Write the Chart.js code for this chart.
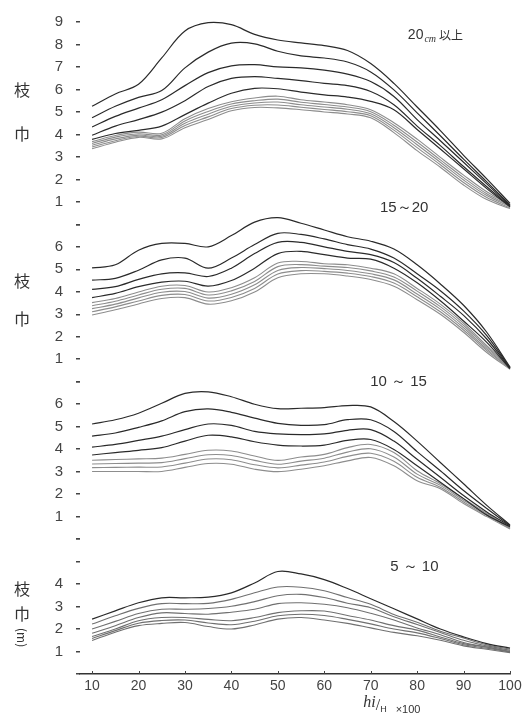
<!DOCTYPE html>
<html lang="ja">
<head>
  <meta charset="UTF-8" />
  <title>枝巾</title>
  <script src="https://cdn.jsdelivr.net/npm/chart.js"></script>
  <style>
    html, body { margin: 0; padding: 0; background: #fff; }
    #wrap { width: 527px; height: 716px; }
  </style>
</head>
<body>
<div id="wrap"><canvas id="chart"></canvas></div>
<script>
// x: hi/H x 100
const hiH = [10, 15, 20, 25, 30, 35, 40, 45, 50, 55, 60, 65, 70, 75, 80, 85, 90, 95, 100];
const xTicks = [10, 20, 30, 40, 50, 60, 70, 80, 90, 100];

// 20cm以上
const over20 = [
  [5.25, 5.8, 6.23, 7.4, 8.6, 8.97, 8.88, 8.45, 8.2, 8.07, 7.95, 7.73, 7.15, 6.27, 5.22, 4.17, 3.07, 2.02, 0.93],
  [4.74, 5.25, 5.65, 5.95, 6.96, 7.66, 8.06, 8.03, 7.7, 7.49, 7.4, 7.22, 6.78, 5.98, 4.96, 3.94, 2.9, 1.89, 0.86],
  [4.33, 4.8, 5.17, 5.54, 6.17, 6.75, 7.05, 7.1, 7.0, 6.96, 6.86, 6.68, 6.35, 5.69, 4.66, 3.72, 2.76, 1.8, 0.82],
  [3.96, 4.37, 4.66, 4.99, 5.5, 6.13, 6.49, 6.57, 6.49, 6.39, 6.27, 6.17, 5.91, 5.32, 4.37, 3.5, 2.57, 1.67, 0.8],
  [3.78, 4.04, 4.18, 4.37, 4.88, 5.39, 5.83, 6.05, 6.03, 5.88, 5.76, 5.66, 5.47, 5.1, 4.22, 3.35, 2.47, 1.59, 0.78],
  [3.68, 3.95, 4.1, 4.05, 4.7, 5.15, 5.45, 5.62, 5.7, 5.54, 5.44, 5.32, 5.1, 4.52, 3.79, 2.98, 2.19, 1.45, 0.86],
  [3.6, 3.88, 4.03, 3.98, 4.6, 5.02, 5.35, 5.5, 5.57, 5.43, 5.33, 5.22, 5.01, 4.41, 3.66, 2.87, 2.08, 1.36, 0.82],
  [3.52, 3.8, 3.97, 3.92, 4.5, 4.9, 5.25, 5.4, 5.44, 5.32, 5.22, 5.12, 4.92, 4.3, 3.54, 2.76, 1.97, 1.28, 0.78],
  [3.44, 3.72, 3.92, 3.86, 4.4, 4.78, 5.15, 5.3, 5.31, 5.21, 5.11, 5.01, 4.83, 4.19, 3.41, 2.65, 1.86, 1.19, 0.74],
  [3.36, 3.65, 3.87, 3.8, 4.3, 4.66, 5.05, 5.2, 5.18, 5.1, 5.0, 4.91, 4.74, 4.08, 3.28, 2.54, 1.75, 1.1, 0.7]
];

// 15～20
const from15to20 = [
  [5.06, 5.2, 5.85, 6.15, 6.15, 6.0, 6.5, 7.1, 7.3, 7.05, 6.75, 6.45, 6.25, 5.9, 5.2, 4.35, 3.4, 2.2, 0.65],
  [4.52, 4.6, 4.96, 5.42, 5.5, 5.05, 5.5, 6.1, 6.6, 6.55, 6.35, 6.1, 5.9, 5.5, 4.8, 4.05, 3.15, 2.05, 0.62],
  [4.11, 4.23, 4.55, 4.8, 4.84, 4.68, 5.05, 5.7, 6.2, 6.2, 6.0, 5.8, 5.65, 5.3, 4.6, 3.8, 2.95, 1.9, 0.6],
  [3.74, 3.93, 4.23, 4.43, 4.47, 4.25, 4.5, 5.05, 5.7, 5.8, 5.65, 5.5, 5.45, 5.05, 4.4, 3.6, 2.7, 1.75, 0.58],
  [3.52, 3.7, 3.99, 4.25, 4.28, 3.99, 4.18, 4.62, 5.28, 5.35, 5.25, 5.2, 5.05, 4.8, 4.15, 3.45, 2.6, 1.6, 0.65],
  [3.38, 3.58, 3.86, 4.11, 4.15, 3.86, 4.04, 4.46, 5.12, 5.21, 5.14, 5.08, 4.93, 4.66, 4.03, 3.34, 2.5, 1.53, 0.63],
  [3.25, 3.45, 3.73, 3.98, 4.01, 3.72, 3.89, 4.31, 4.95, 5.08, 5.03, 4.95, 4.8, 4.53, 3.9, 3.23, 2.4, 1.45, 0.6],
  [3.11, 3.33, 3.59, 3.84, 3.88, 3.59, 3.75, 4.15, 4.79, 4.94, 4.91, 4.83, 4.68, 4.39, 3.78, 3.11, 2.3, 1.38, 0.58],
  [2.97, 3.2, 3.46, 3.7, 3.74, 3.45, 3.6, 3.99, 4.62, 4.8, 4.8, 4.7, 4.55, 4.25, 3.65, 3.0, 2.2, 1.3, 0.55]
];

// 10～15
const from10to15 = [
  [5.12, 5.31, 5.6, 6.04, 6.48, 6.55, 6.33, 6.0, 5.8, 5.82, 5.85, 5.94, 5.88, 5.23, 4.36, 3.41, 2.46, 1.5, 0.63],
  [4.58, 4.72, 4.97, 5.26, 5.67, 5.79, 5.64, 5.38, 5.15, 5.06, 5.09, 5.31, 5.31, 4.79, 3.89, 3.04, 2.16, 1.36, 0.6],
  [4.09, 4.21, 4.39, 4.58, 4.87, 5.12, 5.06, 4.79, 4.68, 4.65, 4.68, 4.84, 4.87, 4.36, 3.55, 2.75, 1.94, 1.21, 0.58],
  [3.74, 3.85, 3.95, 4.07, 4.36, 4.62, 4.55, 4.33, 4.18, 4.14, 4.18, 4.39, 4.43, 3.99, 3.26, 2.53, 1.8, 1.07, 0.55],
  [3.51, 3.54, 3.57, 3.6, 3.77, 3.95, 3.92, 3.7, 3.5, 3.65, 3.77, 4.07, 4.21, 3.85, 3.04, 2.46, 1.8, 1.14, 0.52],
  [3.34, 3.36, 3.38, 3.4, 3.58, 3.75, 3.72, 3.5, 3.33, 3.47, 3.6, 3.87, 4.02, 3.65, 2.89, 2.39, 1.73, 1.09, 0.5],
  [3.18, 3.19, 3.2, 3.21, 3.38, 3.56, 3.53, 3.31, 3.17, 3.29, 3.43, 3.68, 3.82, 3.46, 2.75, 2.31, 1.65, 1.05, 0.47],
  [3.01, 3.01, 3.01, 3.01, 3.19, 3.36, 3.33, 3.11, 3.0, 3.11, 3.26, 3.48, 3.63, 3.26, 2.6, 2.24, 1.58, 1.0, 0.45]
];

// 5～10
const from5to10 = [
  [2.44, 2.81, 3.17, 3.39, 3.39, 3.42, 3.61, 4.05, 4.56, 4.45, 4.2, 3.8, 3.35, 2.9, 2.45, 2.0, 1.65, 1.35, 1.15],
  [2.22, 2.59, 2.92, 3.13, 3.13, 3.14, 3.32, 3.61, 3.87, 3.86, 3.7, 3.4, 3.1, 2.65, 2.3, 1.9, 1.6, 1.3, 1.1],
  [2.0, 2.34, 2.69, 2.88, 2.88, 2.91, 3.01, 3.22, 3.48, 3.54, 3.4, 3.15, 2.95, 2.55, 2.2, 1.85, 1.5, 1.25, 1.05],
  [1.81, 2.15, 2.51, 2.72, 2.69, 2.66, 2.75, 2.88, 3.13, 3.17, 3.1, 2.95, 2.7, 2.4, 2.05, 1.75, 1.4, 1.2, 1.0],
  [1.67, 2.0, 2.37, 2.51, 2.51, 2.43, 2.37, 2.51, 2.73, 2.81, 2.8, 2.6, 2.4, 2.15, 1.95, 1.65, 1.35, 1.2, 1.0],
  [1.58, 1.93, 2.26, 2.38, 2.4, 2.27, 2.19, 2.35, 2.59, 2.66, 2.6, 2.43, 2.23, 2.0, 1.83, 1.58, 1.3, 1.15, 0.98],
  [1.49, 1.86, 2.15, 2.25, 2.29, 2.11, 2.0, 2.18, 2.44, 2.51, 2.4, 2.25, 2.05, 1.85, 1.7, 1.5, 1.25, 1.1, 0.95]
];

const panels = [over20, from15to20, from10to15, from5to10];
const panelMax = [9, 7, 7, 6];
const yTickLabels = [[1, 2, 3, 4, 5, 6, 7, 8, 9], [1, 2, 3, 4, 5, 6], [1, 2, 3, 4, 5, 6], [1, 2, 3, 4]];
const darkLines = [5, 4, 4, 1];

const datasets = [];
panels.forEach((lines, p) => {
  lines.forEach((vals, i) => {
    datasets.push({
      data: hiH.map((x, k) => ({ x: x, y: vals[k] })),
      yAxisID: 'y' + p,
      borderColor: i < darkLines[p] ? '#2a2a2a' : (p === 3 ? '#707070' : '#8d8d8d'),
      borderWidth: i < darkLines[p] ? 1.2 : 1.1,
      pointRadius: 0,
      tension: 0.35,
      clip: false,
      fill: false
    });
  });
});

const scales = {
  x: {
    type: 'linear',
    position: 'bottom',
    min: 7.4,
    max: 100,
    afterBuildTicks: s => { s.ticks = xTicks.map(v => ({ value: v })); },
    afterFit: s => { s.height = 42; },
    grid: { drawOnChartArea: false, drawTicks: false },
    border: { color: '#333', width: 1.5 },
    ticks: { padding: 4, color: '#444', maxRotation: 0, font: { family: 'Liberation Sans', size: 14 } }
  }
};
panels.forEach((lines, p) => {
  scales['y' + p] = {
    type: 'linear',
    position: 'left',
    stack: 'left',
    stackWeight: panelMax[p],
    weight: 4 - p,
    min: 0,
    max: panelMax[p],
    afterFit: s => { s.width = 80; },
    grid: { drawOnChartArea: false, tickLength: 4, color: '#444', lineWidth: 1.5 },
    border: { display: false },
    ticks: {
      stepSize: 1,
      autoSkip: false,
      padding: 13,
      color: '#444',
      font: { family: 'Liberation Sans', size: 15 },
      callback: v => yTickLabels[p].includes(v) ? String(v) : ''
    }
  };
});

// 枝巾 labels, panel titles, x axis title
const annotations = {
  id: 'annotations',
  afterDraw(chart) {
    const ctx = chart.ctx;
    const xs = chart.scales.x;
    const ys = [0, 1, 2, 3].map(p => chart.scales['y' + p]);
    const cjk = '"Noto Sans CJK JP", sans-serif';
    ctx.save();
    ctx.fillStyle = '#333';
    ctx.textBaseline = 'middle';

    // side labels
    ctx.textAlign = 'center';
    ctx.font = '16px ' + cjk;
    [[0, 6, '枝'], [0, 4, '巾'], [1, 4.47, '枝'], [1, 2.8, '巾'], [3, 3.77, '枝'], [3, 2.68, '巾']].forEach(([p, v, t]) => {
      ctx.fillText(t, 22, ys[p].getPixelForValue(v));
    });
    ctx.save();
    ctx.translate(22, ys[3].getPixelForValue(1.62));
    ctx.rotate(Math.PI / 2);
    ctx.font = '12px ' + cjk;
    ctx.fillText('(m)', 0, 0);
    ctx.restore();

    // panel titles
    ctx.textAlign = 'left';
    let x = xs.getPixelForValue(78);
    let y = ys[0].getPixelForValue(8.4);
    ctx.font = '14px "Liberation Sans"';
    ctx.fillText('20', x, y);
    x += ctx.measureText('20').width + 1;
    ctx.font = 'italic 10px "Liberation Serif"';
    ctx.fillText('cm', x, y + 4);
    x += ctx.measureText('cm').width + 3;
    ctx.font = '12px ' + cjk;
    ctx.fillText('以上', x, y);

    ctx.font = '15px "Liberation Sans"';
    ctx.fillText('15～20', xs.getPixelForValue(72), ys[0].getPixelForValue(0.75));
    ctx.fillText('10 ～ 15', xs.getPixelForValue(69.9), ys[2].getPixelForValue(7));
    ctx.fillText('5 ～ 10', xs.getPixelForValue(74.2), ys[3].getPixelForValue(4.78));

    // x axis tick marks (upward)
    ctx.strokeStyle = '#444';
    ctx.lineWidth = 1;
    xTicks.forEach(v => {
      const px = Math.round(xs.getPixelForValue(v)) + 0.5;
      ctx.beginPath();
      ctx.moveTo(px, xs.top);
      ctx.lineTo(px, xs.top - 3);
      ctx.stroke();
    });

    // x axis title: hi/H x100
    x = xs.getPixelForValue(68.4);
    y = xs.top + 29;
    ctx.font = 'italic 16px "Liberation Serif"';
    ctx.fillText('hi', x, y);
    x += ctx.measureText('hi').width;
    ctx.font = '16px "Liberation Serif"';
    ctx.fillText('/', x, y + 3);
    x += ctx.measureText('/').width;
    ctx.font = '9px "Liberation Sans"';
    ctx.fillText('H', x, y + 7);
    x += ctx.measureText('H').width + 9;
    ctx.font = '11px "Liberation Sans"';
    ctx.fillText('×100', x, y + 7);
    ctx.restore();
  }
};

new Chart(document.getElementById('chart'), {
  type: 'line',
  data: { datasets: datasets },
  options: {
    responsive: true,
    maintainAspectRatio: false,
    animation: false,
    layout: { padding: { top: 13, right: 17, bottom: 0, left: 0 } },
    scales: scales,
    plugins: {
      legend: { display: false },
      tooltip: { enabled: false }
    }
  },
  plugins: [annotations]
});
</script>
</body>
</html>
